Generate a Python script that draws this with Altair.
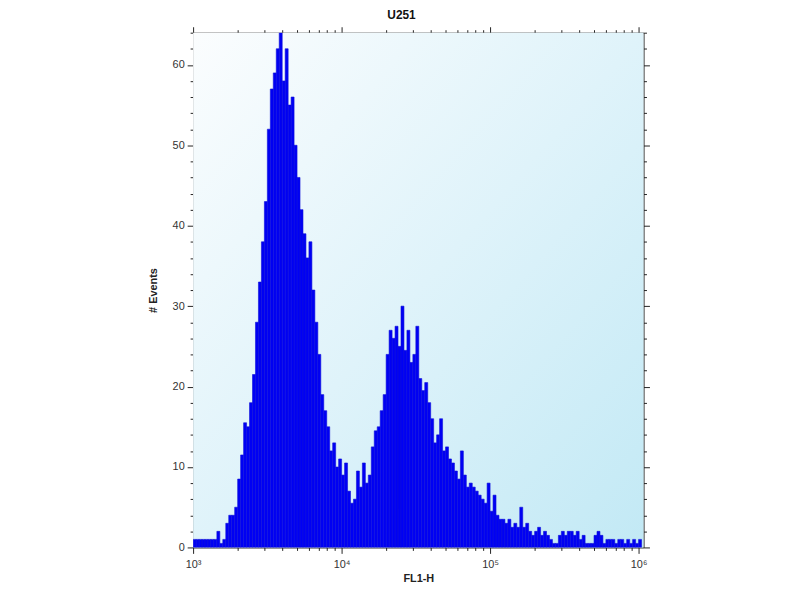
import altair as alt
import pandas as pd

# Histogram counts, 50 log-spaced channels per decade starting at FL1-H = 10^3
counts = [
    1, 1, 1, 1, 1, 1, 1, 1, 2, 0.5,
    1, 3, 4, 4, 5, 8.5, 11.5, 15.5, 15, 18,
    21.5, 28, 33, 38, 43, 52, 57, 59, 62, 64,
    58, 62, 55, 56, 50, 46, 42, 39, 36, 38,
    32, 28, 24, 19, 17, 15, 12, 13, 10, 11,
    9, 10.5, 7, 5.5, 6, 9.5, 7.5, 10.5, 8, 9,
    12.5, 14.5, 15, 17, 19, 24, 27, 26, 27.5, 25,
    30, 24.5, 27, 23, 24, 27.5, 21, 19.5, 20.5, 18,
    16, 13, 14, 16, 12, 12.5, 11, 10.5, 9.5, 8.5,
    12, 9, 7.5, 8, 7.5, 7, 6.5, 6, 5.5, 8,
    4.5, 6.5, 4, 3.5, 3.5, 3, 3.5, 2.5, 3, 2.5,
    5, 2.5, 3, 2, 1.5, 2, 2.5, 1.5, 2, 1.5,
    1, 0.5, 0.5, 1.5, 2, 1.5, 2, 2, 1.5, 2,
    1, 1.5, 0.5, 0.5, 0.5, 1.5, 2, 1.5, 0.5, 1,
    1, 1, 0.5, 1, 1, 0.5, 1, 0.5, 1, 0.5,
    1,
]
channels_per_decade = 50
x_start = 1000
x_tick_values = [m * 10 ** e for e in (3, 4, 5) for m in range(1, 10)] + [10 ** 6]
y_tick_values = list(range(0, 65, 2))

df = pd.DataFrame({
    "lo": [x_start * 10 ** (i / channels_per_decade) for i in range(len(counts))],
    "hi": [x_start * 10 ** ((i + 1) / channels_per_decade) for i in range(len(counts))],
    "count": counts,
})

W, H = 455, 520
xscale = alt.Scale(type="log", domain=[1000, 10 ** (3 + W / 150)], nice=False)
yscale = alt.Scale(domain=[0, 64], nice=False)

FONT = "Liberation Sans"

major_x = "indexof([1000,10000,100000,1000000], datum.value) >= 0"
label_x = ("datum.value == 1000 ? '10³' : datum.value == 10000 ? '10⁴' : "
           "datum.value == 100000 ? '10⁵' : datum.value == 1000000 ? '10⁶' : ''")

bg = alt.Chart(pd.DataFrame({"a": [0]})).mark_rect(
    fill=alt.Gradient(
        gradient="linear",
        stops=[alt.GradientStop(color="#fbfdfe", offset=0),
               alt.GradientStop(color="#dff3fa", offset=0.5),
               alt.GradientStop(color="#c2e9f5", offset=1)],
        x1=0, y1=0, x2=1, y2=1),
).encode(x=alt.value(0), x2=alt.value(W), y=alt.value(0), y2=alt.value(H))

bars = alt.Chart(df).mark_bar(
    fill="#0000f4", stroke="#1010d8", strokeWidth=0.6, clip=True
).encode(
    x=alt.X("lo:Q", scale=xscale, title="FL1-H",
            axis=alt.Axis(values=x_tick_values, labelExpr=label_x, grid=False,
                          tickSize={"condition": {"test": major_x, "value": 6}, "value": 3},
                          domainColor="#222", tickColor="#222", labelColor="#333",
                          labelFont=FONT, labelFontSize=11, labelPadding=5,
                          titleFont=FONT, titleFontSize=11, titleFontWeight="bold",
                          titleColor="#222", titlePadding=3, labelFlush=False)),
    x2="hi:Q",
    y=alt.Y("count:Q", scale=yscale, title="# Events",
            axis=alt.Axis(values=y_tick_values,
                          labelExpr="datum.value % 10 == 0 ? datum.value : ''",
                          grid=False,
                          tickSize={"condition": {"test": "datum.value % 10 == 0", "value": 6}, "value": 3},
                          domainColor="#222", tickColor="#222", labelColor="#333",
                          labelFont=FONT, labelFontSize=11, labelPadding=3,
                          titleFont=FONT, titleFontSize=11, titleFontWeight="bold",
                          titleColor="#222", titlePadding=14)),
    y2=alt.datum(0),
)

mirror = alt.Chart(df).mark_point(opacity=0).encode(
    x=alt.X("lo:Q", scale=xscale, title=None,
            axis=alt.Axis(orient="top", values=x_tick_values, labels=False, grid=False,
                          tickSize={"condition": {"test": major_x, "value": 6}, "value": 3},
                          domainColor="#222", tickColor="#222")),
    y=alt.Y("count:Q", scale=yscale, title=None,
            axis=alt.Axis(orient="right", values=y_tick_values, labels=False, grid=False,
                          tickSize={"condition": {"test": "datum.value % 10 == 0", "value": 6}, "value": 3},
                          domainColor="#222", tickColor="#222")),
)

chart = alt.layer(bg, bars, mirror).resolve_axis(
    x="independent", y="independent"
).properties(
    width=W, height=H,
    title=alt.TitleParams("U251", font=FONT, fontSize=12, fontWeight="bold",
                          color="#111", anchor="middle", dx=-17, offset=4),
    autosize=alt.AutoSizeParams(type="none"),
    padding={"left": 187, "top": 22, "right": 150, "bottom": 34},
).configure_view(stroke="#222", strokeWidth=1).configure(background="white")

chart.save("out.html", embed_options={"renderer": "svg", "actions": False})
